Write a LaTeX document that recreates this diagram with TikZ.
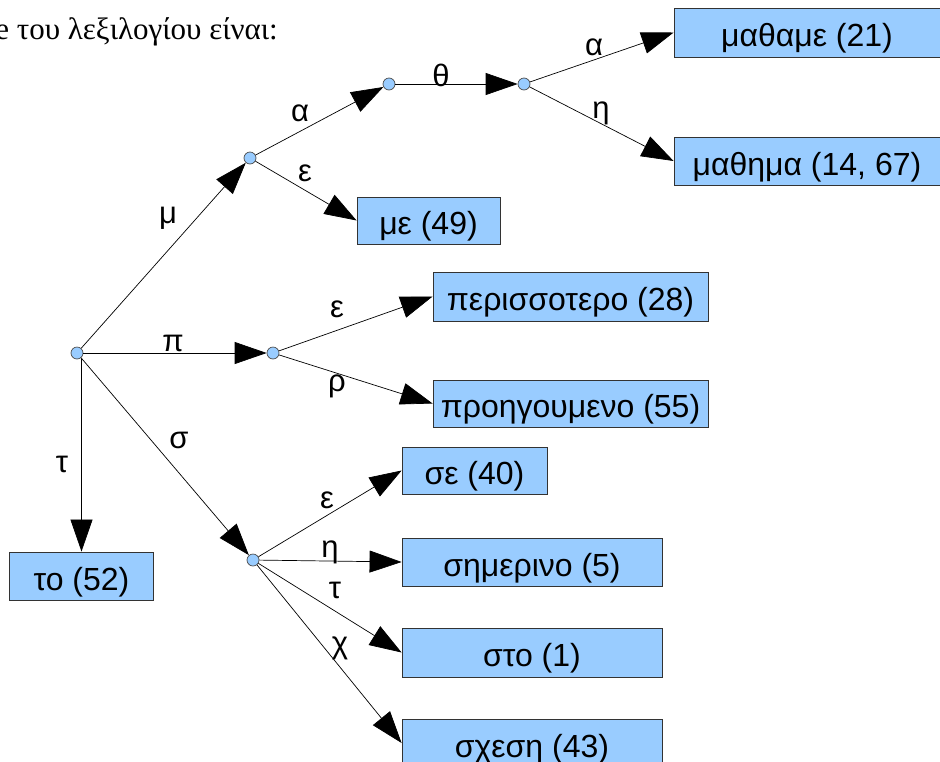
\documentclass[tikz,border=0pt]{standalone}
\usepackage{fontspec}
\setmainfont{Liberation Sans}
\newfontfamily\serifgr{Liberation Serif}
\usetikzlibrary{arrows.meta}
\definecolor{boxblue}{HTML}{99CCFF}
\definecolor{dotblue}{HTML}{99CCFF}
\tikzset{
  wordbox/.style={draw=black!80, fill=boxblue, line width=0.8pt, inner sep=0pt, anchor=center, text height=28pt, text depth=0pt, font=\fontsize{32}{36}\selectfont},
  knot/.style={circle, draw=black!70, fill=dotblue, line width=0.7pt, minimum size=12pt, inner sep=0pt},
  trans/.style={draw=black, line width=0.7pt, -{Triangle[length=32pt,width=22pt]}},
  lbl/.style={font=\fontsize{31}{34}\selectfont, inner sep=0pt}
}
\begin{document}
\begin{tikzpicture}[x=1pt,y=-1pt]
\useasboundingbox (0,0) rectangle (940,761);
% heading (clipped at left edge, as in the reference)
\node[anchor=base east, inner sep=0pt, font=\serifgr\fontsize{31}{34}\selectfont] (head) at (278,39) {trie του λεξιλογίου είναι:};
% internal nodes
\node[knot] (r) at (77,353) {};
\node[knot] (m) at (250,158) {};
\node[knot] (ma) at (389,84) {};
\node[knot] (math) at (524,84) {};
\node[knot] (p) at (273,353) {};
\node[knot] (s) at (253,560) {};
% word boxes
\node[wordbox, minimum width=266pt, minimum height=49pt] (w1) at (807,32.5) {μαθαμε (21)};
\node[wordbox, minimum width=266pt, minimum height=48pt] (w2) at (807,161) {μαθημα (14, 67)};
\node[wordbox, minimum width=143pt, minimum height=47pt] (w3) at (428.5,220.5) {με (49)};
\node[wordbox, minimum width=275pt, minimum height=49pt] (w4) at (570.5,296.5) {περισσοτερο (28)};
\node[wordbox, minimum width=275pt, minimum height=47pt] (w5) at (570.5,403.5) {προηγουμενο (55)};
\node[wordbox, minimum width=144pt, minimum height=48pt] (w6) at (81.5,576) {το (52)};
\node[wordbox, minimum width=145pt, minimum height=47pt] (w7) at (474.5,470.5) {σε (40)};
\node[wordbox, minimum width=260pt, minimum height=48pt] (w8) at (532,562) {σημερινο (5)};
\node[wordbox, minimum width=260pt, minimum height=49pt] (w9) at (532,652.5) {στο (1)};
\node[wordbox, minimum width=260pt, minimum height=48pt] (w10) at (532,743) {σχεση (43)};
% connectors
\draw[trans] (r) -- (m);
\draw[trans] (m) -- (ma);
\draw[trans] (ma) -- (math);
\draw[trans] (math) -- (w1.west);
\draw[trans] (math) -- (w2.west);
\draw[trans] (m) -- (w3.west);
\draw[trans] (r) -- (p);
\draw[trans] (p) -- (w4.west);
\draw[trans] (p) -- (w5.west);
\draw[trans] (r.south -| w6.north) -- (w6.north);
\draw[trans] (r) -- (s);
\draw[trans] (s) -- (w7.west);
\draw[trans] (s) -- (w8.west);
\draw[trans] (s) -- (w9.west);
\draw[trans] (s) -- (w10.west);
% edge labels
\node[lbl] (l1) at (168,218) {μ};
\node[lbl] (l2) at (300,113) {α};
\node[lbl] (l3) at (441,75) {θ};
\node[lbl] (l4) at (594,47) {α};
\node[lbl] (l5) at (601,113) {η};
\node[lbl] (l6) at (305,173) {ε};
\node[lbl] (l7) at (173,343) {π};
\node[lbl] (l8) at (337,309) {ε};
\node[lbl] (l9) at (337,386) {ρ};
\node[lbl] (l10) at (62,464) {τ};
\node[lbl] (l11) at (179,440) {σ};
\node[lbl] (l12) at (327,500) {ε};
\node[lbl] (l13) at (330,552) {η};
\node[lbl] (l14) at (335,590) {τ};
\node[lbl] (l15) at (340,648) {χ};
\end{tikzpicture}
\end{document}
